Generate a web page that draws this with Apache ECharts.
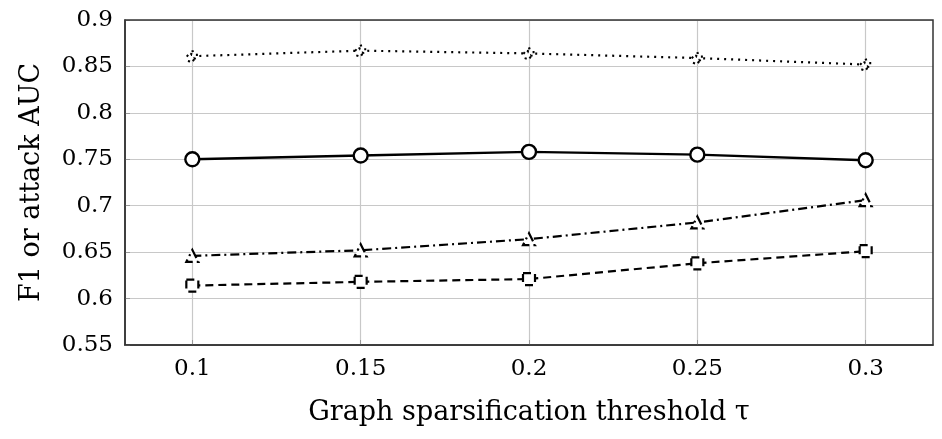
<!DOCTYPE html>
<html>
<head>
<meta charset="utf-8">
<script src="https://cdn.jsdelivr.net/npm/echarts@6/dist/echarts.min.js"></script>
<style>
  html, body { margin: 0; padding: 0; background: #fff; }
  #chart { width: 942px; height: 439px; }
</style>
</head>
<body>
<div id="chart"></div>
<script>
// threshold values on x
var thresholds = [0.1, 0.15, 0.2, 0.25, 0.3];
var yTicks = [0.55, 0.6, 0.65, 0.7, 0.75, 0.8, 0.85, 0.9];

// series
var starVals = [0.861, 0.867, 0.864, 0.859, 0.852];
var circleVals = [0.750, 0.754, 0.758, 0.755, 0.749];
var triangleVals = [0.646, 0.652, 0.664, 0.682, 0.706];
var squareVals = [0.614, 0.618, 0.621, 0.638, 0.651];

var font = 'DejaVu Serif';
var starPath = 'path://M50,0 L61,35 L98,35 L68,57 L79,91 L50,70 L21,91 L32,57 L2,35 L39,35 Z';

function pairs(vals) {
  var out = [];
  for (var i = 0; i < thresholds.length; i++) {
    out.push([thresholds[i], vals[i]]);
  }
  return out;
}

function mkSeries(vals, symbol, size, lineType, width) {
  return {
    type: 'line',
    data: pairs(vals),
    symbol: symbol,
    symbolSize: size,
    showSymbol: true,
    animation: false,
    lineStyle: { color: '#000', width: width, type: lineType },
    itemStyle: { color: '#fff', borderColor: '#000', borderWidth: width, borderType: lineType }
  };
}

var chart = echarts.init(document.getElementById('chart'));
chart.setOption({
  backgroundColor: '#fff',
  grid: { left: 125, right: 9, top: 20, bottom: 94, containLabel: false },
  xAxis: {
    type: 'value',
    min: 0.08,
    max: 0.32,
    name: 'Graph sparsification threshold τ',
    nameLocation: 'middle',
    nameGap: 54,
    nameTextStyle: { fontFamily: font, fontSize: 27, color: '#000' },
    axisLine: { show: true, onZero: false, lineStyle: { color: '#333', width: 1.5 } },
    axisTick: { show: true, inside: true, length: 5, lineStyle: { color: '#999' }, customValues: thresholds },
    axisLabel: { fontFamily: font, fontSize: 23, color: '#000', margin: 13, customValues: thresholds },
    splitLine: { show: true, lineStyle: { color: '#c8c8c8', width: 1.2 } }
  },
  yAxis: {
    type: 'value',
    min: 0.55,
    max: 0.9,
    interval: 0.05,
    name: 'F1 or attack AUC',
    nameLocation: 'middle',
    nameGap: 80,
    nameTextStyle: { fontFamily: font, fontSize: 27, color: '#000' },
    axisLine: { show: true, lineStyle: { color: '#333', width: 1.5 } },
    axisTick: { show: true, inside: true, length: 5, lineStyle: { color: '#999' } },
    axisLabel: {
      fontFamily: font, fontSize: 23, color: '#000', margin: 12,
      formatter: function (v) { return String(Math.round(v * 100) / 100); }
    },
    splitLine: { show: true, lineStyle: { color: '#c8c8c8', width: 1.2 } }
  },
  series: [
    mkSeries(starVals, starPath, 12, [2, 5], 2.2),
    mkSeries(circleVals, 'circle', 14, 'solid', 2.4),
    mkSeries(triangleVals, 'triangle', 12, [9, 4, 2, 4], 2.2),
    mkSeries(squareVals, 'rect', 12, [8, 5], 2.2)
  ]
});
// frame on top/right
chart.setOption({
  graphic: [{
    type: 'rect',
    shape: { x: 125, y: 20, width: 808, height: 325 },
    style: { fill: 'none', stroke: '#333', lineWidth: 1.5 },
    silent: true,
    z: 10
  }]
});
</script>
</body>
</html>
